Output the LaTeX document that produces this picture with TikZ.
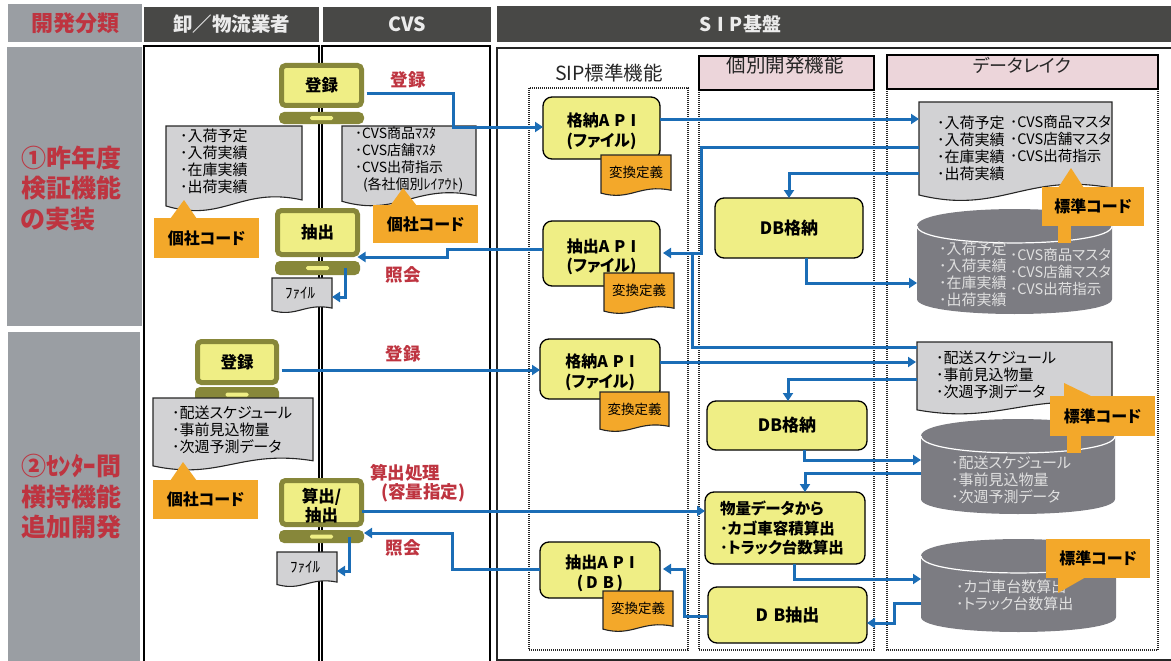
\documentclass[tikz,border=0pt]{standalone}
\usepackage{fontspec}
\setmainfont{Noto Sans CJK JP}[RawFeature={+palt}]
\usetikzlibrary{arrows.meta}
\definecolor{cgrey}{HTML}{9A9EA3}
\definecolor{cdark}{HTML}{484846}
\definecolor{cred}{HTML}{BE3440}
\definecolor{cpink}{HTML}{ECD5DA}
\definecolor{cyel}{HTML}{EFEE85}
\definecolor{colive}{HTML}{87873A}
\definecolor{corg}{HTML}{F3A82A}
\definecolor{cdoc}{HTML}{D2D2D4}
\definecolor{ccyl}{HTML}{7C7C82}
\definecolor{cblue}{HTML}{1B6DB6}
\newcommand{\fsz}[1]{\fontsize{#1}{#1}\selectfont}
\newcommand{\fln}[2]{\fontsize{#1}{#2}\selectfont}
\newcommand{\gp}{\hspace{.32em}}
\newcommand{\tallrow}{\rule{0pt}{1.25em}}
\tikzset{
  x=1pt,y=-1pt,
  span/.code n args={4}{%
    \pgfmathsetmacro{\spW}{(#3)-(#1)}\pgfmathsetmacro{\spH}{(#4)-(#2)}%
    \pgfmathsetmacro{\spX}{((#1)+(#3))/2}\pgfmathsetmacro{\spY}{((#2)+(#4))/2}%
    \pgfkeysalso{minimum width=\spW pt,minimum height=\spH pt,at={(\spX,\spY)}}},
  region/.style={inner sep=0pt,outer sep=0pt},
  sidebar/.style={region,fill=cgrey},
  headbar/.style={region,fill=cdark,text=white!92!black,font=\bfseries\fsz{19.5}},
  panel/.style={region,draw=black,line width=1.1pt},
  subhead/.style={region,draw=black,line width=1.1pt,fill=cpink},
  dotcol/.style={draw=black!85,line width=1.2pt,dash pattern=on 1pt off 1pt},
  fnbox/.style={region,draw=black,line width=1.3pt,fill=cyel,rounded corners=9pt,font=\bfseries\fln{16}{19.5},align=center},
  dbbox/.style={fnbox,font=\bfseries\fsz{17}},
  screen/.style={region,draw=colive,line width=5pt,fill=cyel,rounded corners=4pt,font=\bfseries\fln{16.5}{19},align=center},
  pcbase/.style={region,fill=colive,rounded corners=5pt},
  orangebox/.style={region,fill=corg,font=\bfseries\fsz{16}},
  listtext/.style={region,anchor=west,align=left,font=\fln{15}{17}},
  cyltext/.style={region,anchor=west,align=left,text=white!88!black,font=\fln{15}{17}},
  redlabel/.style={region,text=cred,font=\bfseries\fsz{17.5}},
  sectitle/.style={region,anchor=west,align=left,text=cred,font=\bfseries\fln{25}{30.5}},
  coltitle/.style={region,font=\fsz{19.5},text=black!85},
  filetext/.style={region,font=\fsz{15}},
  flow/.style={draw=cblue,line width=3pt,-{Triangle[length=8pt,width=10pt]}},
  flowline/.style={draw=cblue,line width=3pt},
}
\newcommand{\wavedoc}[7][]{%
  \pgfmathsetmacro{\ww}{#5-#3}\pgfmathsetmacro{\hh}{#6-#4}%
  \pgfmathsetmacro{\ya}{#6-.14*\hh}\pgfmathsetmacro{\yb}{#6-.07*\hh}%
  \pgfmathsetmacro{\yc}{#6-.30*\hh}\pgfmathsetmacro{\yd}{#6+.13*\hh}%
  \pgfmathsetmacro{\xc}{#5-.45*\ww}\pgfmathsetmacro{\xd}{#3+.42*\ww}%
  \draw[fill=#7,line width=1.1pt,draw=black!85] (#3,#4) -- (#5,#4) -- (#5,\ya) .. controls (\xc,\yc) and (\xd,\yd) .. (#3,\yb) -- cycle;%
  \node[span={#3}{#4}{#5}{\ya},region,#1] (#2) {};}
\newcommand{\cyl}[5]{%
  \pgfmathsetmacro{\cc}{#3+17}\pgfmathsetmacro{\bb}{#5-15}\pgfmathsetmacro{\ct}{#3-5.6}\pgfmathsetmacro{\cu}{#3+39.6}\pgfmathsetmacro{\cb}{#5+5}%
  \fill[ccyl] (#2,\cc) .. controls (#2,\ct) and (#4,\ct) .. (#4,\cc) -- (#4,\bb) .. controls (#4,\cb) and (#2,\cb) .. (#2,\bb) -- cycle;%
  \draw[white,line width=1.2pt] (#2,\cc) .. controls (#2,\cu) and (#4,\cu) .. (#4,\cc);%
  \node[span={#2}{#3}{#4}{#5},region] (#1) {};}
\newcommand{\pc}[8]{% name x1 x2 y1 y2 yb1 yb2 text
  \node[span={#2+2.5}{#4+2.5}{#3-2.5}{#5-2.5},screen] (#1) {#8};
  \node[span={#2}{#6}{#3}{#7},pcbase] (#1b) {};
  \node[fill=cyel,region,rounded corners=1.5pt,minimum width=23pt,minimum height=4pt] (#1s) at (#1b) {};}
\newcommand{\conv}[5]{\wavedoc{#1}{#2}{#3}{#4}{#5}{corg}{}%
  \node[region,font=\fsz{13.5}] (#1t) at (#1.center) {変換定義};}
\begin{document}
\begin{tikzpicture}
\useasboundingbox (0,0) rectangle (1171,661);
% sidebars and headers
\node[span={8}{4}{142}{42},sidebar,text=cred,font=\bfseries\fsz{22}] (hkind) {開発分類};
\node[span={144}{7}{319}{42},headbar] (hwh) {卸／物流業者};
\node[span={323}{7}{491}{42},headbar] (hcvs) {CVS};
\node[span={497}{6}{1171}{42},headbar] (hsip) {};
\node[region,text=white!92!black,font=\bfseries\fsz{19}] (hsipt) at (740,24) {S\gp I\gp P基盤};
\node[span={7}{47}{142}{326},sidebar] (s1) {};
\node[span={8}{332}{140}{661},sidebar] (s2) {};
\node[sectitle] (s1t) at (21,188) {①昨年度\\検証機能\\の実装};
\node[sectitle] (s2t) at (21,497) {②ｾﾝﾀｰ間\\横持機能\\追加開発};
% panels
\node[span={144}{46}{319}{668},panel] (pw) {};
\node[span={322}{46}{490}{668},panel] (pc) {};
\draw[line width=1.1pt,draw=black!85] (1175,48) -- (497,48) -- (497,660) -- (1175,660);
% SIP columns
\node[coltitle] (ch1) at (609,73) {SIP標準機能};
\draw[dotcol] (529,88) rectangle (688,650);
\draw[dotcol] (699,90) -- (699,650) -- (874,650) -- (874,90);
\draw[dotcol] (887,89) -- (887,650) -- (1158,650) -- (1158,89);
\node[span={699}{56}{874}{90},subhead] (ch2) {};
\node[coltitle] (ch2t) at (785,65) {個別開発機能};
\node[span={887}{55}{1158}{89},subhead] (ch3) {};
\node[coltitle,font=\fsz{18}] (ch3t) at (1022,65) {データレイク};
% left documents
\wavedoc{dlw1}{166}{126}{302}{212}{cdoc}
\node[listtext] (tw1) at (180,161.5) {･入荷予定\\･入荷実績\\･在庫実績\\･出荷実績};
\wavedoc{dcv1}{342}{126}{476}{207}{cdoc}
\node[listtext,font=\fln{14}{17}] (tc1) at (355,159) {･CVS商品ﾏｽﾀ\\･CVS店舗ﾏｽﾀ\\･CVS出荷指示\\\hspace*{8pt}(各社個別ﾚｲｱｳﾄ)};
% PCs
\pc{pcA}{279}{364}{63}{108}{112}{124}{\raisebox{-2.5pt}{登録}}
\pc{pcB}{275}{360}{208}{257}{261}{275}{抽出}
\pc{pcC}{195}{279}{339}{385}{387}{402}{登録}
\wavedoc{dlw2}{153}{398}{313}{471}{cdoc}
\node[listtext] (tw2) at (172,430) {･配送スケジュール\\･事前見込物量\\･次週予測データ};
\pc{pcD}{279}{364}{478}{527}{530}{543}{\tallrow 算出/\\抽出}
\wavedoc{fileA}{272}{278}{332}{313}{cdoc}
\node[filetext] (fAt) at (300,293) {ﾌｧｲﾙ};
\wavedoc{fileB}{277}{552}{337}{587}{cdoc}
\node[filetext] (fBt) at (305,567) {ﾌｧｲﾙ};
% SIP function boxes
\node[span={543}{97}{660}{159},fnbox] (apiA) {\tallrow 格納A\gp P\gp I\\(ファイル)};
\node[span={543}{221}{660}{286},fnbox] (apiB) {\tallrow 抽出A\gp P\gp I\\(ファイル)};
\node[span={540}{339}{660}{399},fnbox] (apiC) {\tallrow 格納A\gp P\gp I\\(ファイル)};
\node[span={540}{542}{660}{598},fnbox] (apiD) {\tallrow 抽出A\gp P\gp I\\(\,D\gp B\,)};
\conv{cvA}{601}{155}{671}{196}
\conv{cvB}{604}{273}{674}{314}
\conv{cvC}{600}{392}{669}{432}
\conv{cvD}{603}{591}{673}{632}
\node[span={715}{198}{863}{258},dbbox] (dbA) {DB格納};
\node[span={707}{401}{867}{450},dbbox] (dbB) {DB格納};
\node[span={705}{492}{865}{564},fnbox] (calc) {};
\node[region,anchor=west,align=left,font=\bfseries\fln{15.5}{19.5}] (calct) at (720,528) {物量データから\\･カゴ車容積算出\\･トラック台数算出};
\node[span={708}{587}{867}{643},dbbox] (dbC) {D\gp B抽出};
% data lake
\wavedoc{dlA}{919}{102}{1112}{202}{cdoc}
\node[listtext] (dlAl) at (937,148) {･入荷予定\\･入荷実績\\･在庫実績\\･出荷実績};
\node[listtext,font=\fln{14.5}{17}] (dlAr) at (1010,139) {･CVS商品マスタ\\･CVS店舗マスタ\\･CVS出荷指示};
\cyl{cyA}{917}{209}{1112}{314}
\node[cyltext] (cyAl) at (939,274) {･入荷予定\\･入荷実績\\･在庫実績\\･出荷実績};
\node[cyltext,font=\fln{14.5}{17}] (cyAr) at (1010,272) {･CVS商品マスタ\\･CVS店舗マスタ\\･CVS出荷指示};
\wavedoc{dlB}{917}{342}{1112}{415}{cdoc}
\node[listtext] (dlBt) at (936,374.5) {･配送スケジュール\\･事前見込物量\\･次週予測データ};
\cyl{cyB}{921}{419}{1115}{514}
\node[cyltext] (cyBt) at (951,480) {･配送スケジュール\\･事前見込物量\\･次週予測データ};
\cyl{cyC}{921}{539}{1116}{632}
\node[cyltext] (cyCt) at (956,595.5) {･カゴ車台数算出\\･トラック台数算出};
% flows
\draw[flow,shorten <=5pt] (pcA.east |- 0,94) -- ++(92,0) |- (apiA.west |- 0,127);
\draw[flow] (apiA.east |- 0,119) -- (dlA.west |- 0,119);
\draw[flow,shorten >=3pt] (dlA.west |- 0,147) -- ++(-218,0) |- (apiB.east |- 0,253);
\draw[flowline] (dlB.west |- 0,347) -- ++(-225,0) -- ++(0,-94);
\draw[flow] (dlA.west |- 0,173) -| (dbA.north);
\draw[flow] (806,0 |- dbA.south) |- (cyA.west |- 0,283);
\draw[flow] (apiB.west |- 0,249) -- ++(-96,0) |- (pcB.east |- 0,257);
\draw[flow] (345,0 |- pcBb.center) |- (fileA.east |- 0,297);
\draw[flow,shorten <=5pt] (pcC.east |- 0,370) -- (apiC.west |- 0,370);
\draw[flow,shorten >=1pt] (apiC.east |- 0,362) -- (dlB.west |- 0,362);
\draw[flow] (dlB.west |- 0,379) -| (788,0 |- dbB.north);
\draw[flow] (804,0 |- dbB.south) |- (cyB.west |- 0,460);
\draw[flow] (cyB.west |- 0,473) -| (805,0 |- calc.north);
\draw[flow] (pcD.east |- 0,511) -- (calc.west |- 0,511);
\draw[flow] (794,0 |- calc.south) |- (cyC.west |- 0,579);
\draw[flow] (cyC.west |- 0,603) -- ++(-27,0) |- (dbC.east |- 0,623);
\draw[flow,shorten >=3pt] (dbC.west |- 0,616) -- ++(-24,0) |- (apiD.east |- 0,569);
\draw[flow] (apiD.west |- 0,569) -- ++(-88,0) |- (pcDb.east |- 0,533);
\draw[flow] (349,0 |- pcDb.center) |- (fileB.east |- 0,571);
% red labels
\node[redlabel] (lr1) at (408,80) {登録};
\node[redlabel] (lr2) at (403,275) {照会};
\node[redlabel] (lr3) at (403,354) {登録};
\node[redlabel] (lr4) at (405,473) {算出処理};
\node[redlabel] (lr5) at (423,493) {(容量指定)};
\node[redlabel] (lr6) at (403,548) {照会};
% callouts
\fill[corg] (170,219) -- (184,200) -- (197,219) -- cycle;
\node[span={154}{218}{259}{258},orangebox] (coA) {個社コード};
\fill[corg] (390,206) -- (403,188) -- (417,206) -- cycle;
\node[span={373}{205}{478}{243},orangebox] (coB) {個社コード};
\fill[corg] (170,481) -- (183,462) -- (197,481) -- cycle;
\node[span={153}{480}{258}{519},orangebox] (coC) {個社コード};
\fill[corg] (1058,188) -- (1071,168) -- (1084,188) -- cycle;
\fill[corg] (1058,225) rectangle (1071,243);
\node[span={1042}{187}{1144}{226},orangebox] (coD) {標準コード};
\fill[corg] (1064,397) -- (1064,383) -- (1093,397) -- cycle;
\fill[corg] (1067,435) rectangle (1081,453);
\node[span={1050}{396}{1155}{436},orangebox] (coE) {標準コード};
\fill[corg] (1058,577) -- (1058,593) -- (1086,577) -- cycle;
\node[span={1046}{539}{1150}{578},orangebox] (coF) {標準コード};
\end{tikzpicture}
\end{document}
